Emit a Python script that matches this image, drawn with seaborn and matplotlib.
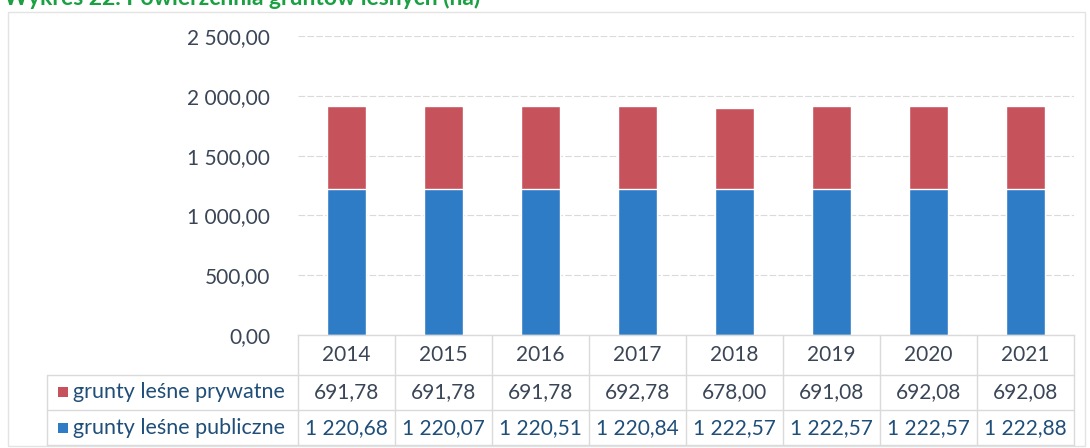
import matplotlib
matplotlib.use("Agg")
import matplotlib.pyplot as plt
from matplotlib.patches import Rectangle
import matplotlib.transforms as mtrans
import seaborn as sns
import numpy as np
import pandas as pd

years = ["2014", "2015", "2016", "2017", "2018", "2019", "2020", "2021"]
prywatne = [691.78, 691.78, 691.78, 692.78, 678.00, 691.08, 692.08, 692.08]
publiczne = [1220.68, 1220.07, 1220.51, 1220.84, 1222.57, 1222.57, 1222.57, 1222.88]
series_names = ["grunty leśne prywatne", "grunty leśne publiczne"]
yticks = [0, 500, 1000, 1500, 2000, 2500]

RED = "#C6525B"
BLUE = "#2E7CC6"
TXT = "#3A4556"
TXT_BLUE = "#1F4E79"
GRID = "#DADADA"


def fmt(v):
    s = f"{v:,.2f}"
    return s.replace(",", " ").replace(".", ",")


sns.set_style("white")
plt.rcParams["font.family"] = ["Lato", "DejaVu Sans"]

W, H = 1090, 448
fig = plt.figure(figsize=(W / 100, H / 100), dpi=100)


def fx(px):
    return px / W


def fy(py):
    return (H - py) / H


ax = fig.add_axes([fx(298), fy(335), fx(1074) - fx(298), fy(36) - fy(335)])

df = pd.DataFrame({"rok": years, "prywatne": prywatne, "publiczne": publiczne})
df["razem"] = df["prywatne"] + df["publiczne"]

sns.barplot(data=df, x="rok", y="razem", color=RED, width=0.41, saturation=1, ax=ax)
sns.barplot(data=df, x="rok", y="publiczne", color=BLUE, width=0.41, saturation=1, ax=ax)

ax.set_xlim(-0.5, len(years) - 0.5)
ax.set_ylim(0, 2500)
ax.set_yticks(yticks)
ax.set_yticklabels([fmt(v) for v in yticks], fontsize=15, color=TXT)
ax.tick_params(axis="y", length=0, pad=20)
ax.set_xticks([])
ax.set_xlabel("")
ax.set_ylabel("")
ax.yaxis.grid(True, color=GRID, linewidth=0.8, linestyle=(0, (6, 2)))
ax.set_axisbelow(True)
for sp in ["top", "right", "left"]:
    ax.spines[sp].set_visible(False)
ax.spines["bottom"].set_color(GRID)
ax.spines["bottom"].set_linewidth(1.0)

# data table below the axis
line_kw = dict(color=GRID, linewidth=1.0, transform=fig.transFigure, clip_on=False)
tr = mtrans.blended_transform_factory(ax.transData, fig.transFigure)
row_lines = [335, 375, 410, 445]
row_centers = [355, 392, 428]

for py in row_lines[1:]:
    fig.add_artist(plt.Line2D([fx(47), fx(1074)], [fy(py), fy(py)], **line_kw))
fig.add_artist(plt.Line2D([fx(47), fx(47)], [fy(375), fy(445)], **line_kw))
for i in range(len(years) + 1):
    xb = i - 0.5
    fig.add_artist(plt.Line2D([xb, xb], [fy(335), fy(445)], color=GRID,
                              linewidth=1.0, transform=tr, clip_on=False))

for i, yr in enumerate(years):
    fig.text(i, fy(row_centers[0]), yr, transform=tr, ha="center", va="center",
             fontsize=15, color=TXT)
    fig.text(i, fy(row_centers[1]), fmt(prywatne[i]), transform=tr, ha="center",
             va="center", fontsize=15, color=TXT)
    fig.text(i, fy(row_centers[2]), fmt(publiczne[i]), transform=tr, ha="center",
             va="center", fontsize=15, color=TXT_BLUE)

for name, col, py in zip(series_names, [RED, BLUE], row_centers[1:]):
    fig.add_artist(Rectangle((fx(58), fy(py + 5)), fx(10), fy(py - 5) - fy(py + 5),
                             facecolor=col, edgecolor="none", transform=fig.transFigure))
    fig.text(fx(73), fy(py), name, ha="left", va="center", fontsize=15.5, color=TXT_BLUE)

# outer frame of the chart
fig.add_artist(Rectangle((fx(8), fy(446)), fx(1085) - fx(8), fy(12) - fy(446),
                         facecolor="none", edgecolor="#E3E3E3", linewidth=1.0,
                         transform=fig.transFigure))

# title, cut off at the top edge as in the scanned source
fig.text(fx(4), fy(5), "Wykres 22. Powierzchnia gruntów leśnych (ha)", ha="left",
         va="baseline", fontsize=16.5, fontweight="bold", color="#1AA043")

fig.savefig("out.png", dpi=100)
